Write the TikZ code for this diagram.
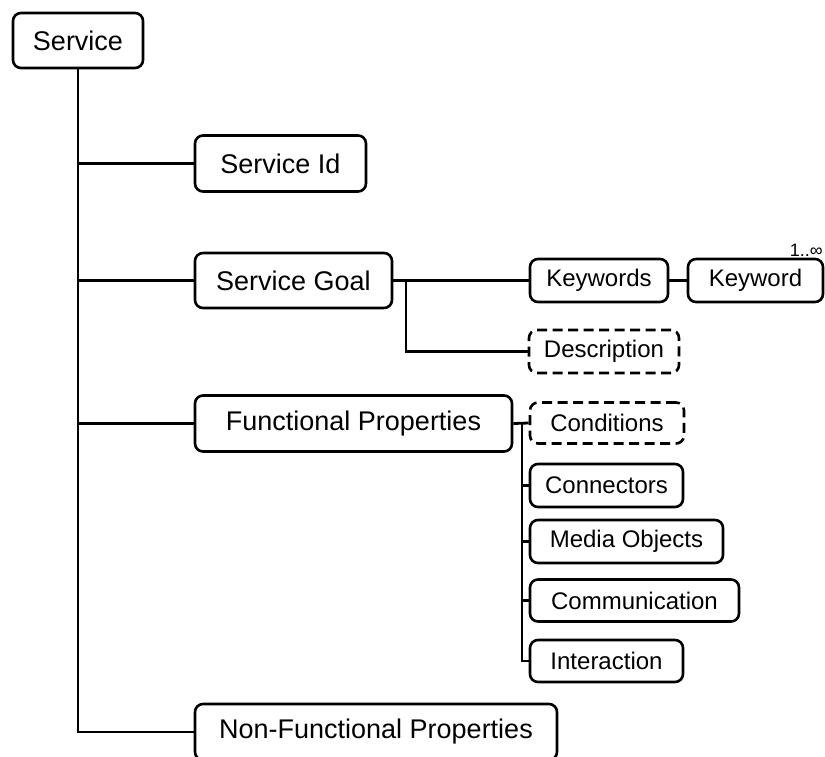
\documentclass[tikz,border=0pt]{standalone}
\usepackage{fontspec}
\setmainfont{Liberation Sans}
\begin{document}
\begin{tikzpicture}[x=1pt,y=-1pt,
  box/.style={draw,line width=2.6pt,rounded corners=8pt,inner sep=0pt,align=center},
  big/.style={box,font=\fontsize{27}{30}\selectfont},
  small/.style={box,font=\fontsize{24}{26}\selectfont},
  dsh/.style={dash pattern=on 10pt off 5.5pt},
  conn/.style={line width=2.8pt}]
\useasboundingbox (0,0) rectangle (825,756);
\node[big,minimum width=130pt,minimum height=55pt] (svc) at (78,40.5) {Service};
\node[big,minimum width=171pt,minimum height=56pt] (sid) at (280.5,163.5) {Service Id};
\node[big,minimum width=197pt,minimum height=55pt] (sgoal) at (293.5,280.5) {Service Goal};
\node[big,minimum width=317pt,minimum height=56pt] (fp) at (353.5,423.5) {Functional Properties};
\node[big,minimum width=362pt,minimum height=56pt] (nfp) at (376,732) {Non-Functional Properties};
\node[small,minimum width=138pt,minimum height=43pt] (kws) at (599,280.5) {Keywords};
\node[small,minimum width=135pt,minimum height=43pt] (kw) at (755.5,280.5) {Keyword};
\node[font=\fontsize{18}{20}\selectfont,anchor=base east,inner sep=0pt] (mult) at (823,256) {1..∞};
\node[small,dsh,minimum width=150pt,minimum height=43pt] (desc) at (604,351.5) {Description};
\node[small,dsh,minimum width=154pt,minimum height=41pt] (cond) at (607,423) {Conditions};
\node[small,minimum width=153pt,minimum height=43pt] (cnn) at (606.5,485.5) {Connectors};
\node[small,minimum width=193pt,minimum height=43pt] (media) at (626.5,541.5) {Media Objects};
\node[small,minimum width=209pt,minimum height=42pt] (comm) at (634.5,600.5) {Communication};
\node[small,minimum width=153pt,minimum height=42pt] (inter) at (606.5,661) {Interaction};
\coordinate (sgj) at (406,280.5);
\coordinate (fpj) at (522,423);
\draw[conn] (svc.south) |- (nfp.west);
\draw[conn] (svc.south |- sid.west) -- (sid.west);
\draw[conn] (svc.south |- sgoal.west) -- (sgoal.west);
\draw[conn] (svc.south |- fp.west) -- (fp.west);
\draw[conn] (sgoal.east) -- (kws.west);
\draw[conn] (sgj) |- (desc.west);
\draw[conn] (kws.east) -- (kw.west);
\draw[conn] (fp.east) -- (cond.west);
\draw[conn] (fpj) |- (inter.west);
\draw[conn] (fpj |- cnn.west) -- (cnn.west);
\draw[conn] (fpj |- media.west) -- (media.west);
\draw[conn] (fpj |- comm.west) -- (comm.west);
\end{tikzpicture}
\end{document}
